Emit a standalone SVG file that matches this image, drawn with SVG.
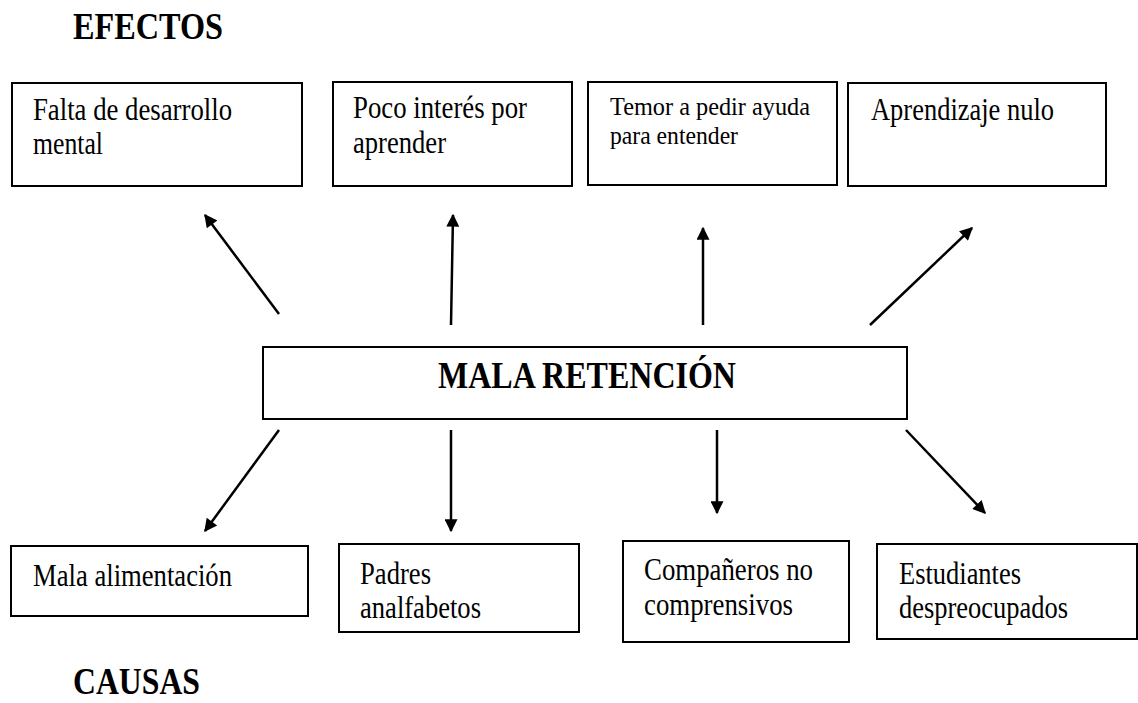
<svg xmlns="http://www.w3.org/2000/svg" width="1138" height="703" viewBox="0 0 1138 703">
<defs>
<style>
.box{fill:#fff;stroke:#000;stroke-width:2}
.t{font-family:"Liberation Serif","Times New Roman",serif;font-size:32px;fill:#000}
.ts{font-family:"Liberation Serif","Times New Roman",serif;font-size:25px;fill:#000}
.h{font-family:"Liberation Serif","Times New Roman",serif;font-weight:bold;fill:#000}
.arr{stroke:#000;stroke-width:2.5;fill:none;marker-end:url(#ah)}
</style>
<marker id="ah" viewBox="0 0 10 10" refX="9" refY="5" markerUnits="userSpaceOnUse" markerWidth="15" markerHeight="13" orient="auto">
<path d="M0,0 L10,5 L0,10 z" fill="#000"/>
</marker>
</defs>
<rect width="1138" height="703" fill="#fff"/>
<text id="efectos" class="h" x="73" y="39" font-size="38" textLength="150" lengthAdjust="spacingAndGlyphs">EFECTOS</text>
<text id="causas" class="h" x="73" y="694" font-size="37" textLength="127" lengthAdjust="spacingAndGlyphs">CAUSAS</text>
<g id="e1"><rect class="box" x="12" y="83" width="290" height="103"/>
<text class="t" x="33" y="120" textLength="199" lengthAdjust="spacingAndGlyphs">Falta de desarrollo</text>
<text class="t" x="33" y="154" textLength="70" lengthAdjust="spacingAndGlyphs">mental</text></g>
<g id="e2"><rect class="box" x="333" y="82" width="239" height="104"/>
<text class="t" x="353" y="118" font-size="31" textLength="174" lengthAdjust="spacingAndGlyphs">Poco interés por</text>
<text class="t" x="353" y="153" font-size="31" textLength="93" lengthAdjust="spacingAndGlyphs">aprender</text></g>
<g id="e3"><rect class="box" x="588" y="82" width="249" height="103"/>
<text class="ts" x="610" y="115" textLength="200" lengthAdjust="spacingAndGlyphs">Temor a pedir ayuda</text>
<text class="ts" x="610" y="144" textLength="128" lengthAdjust="spacingAndGlyphs">para entender</text></g>
<g id="e4"><rect class="box" x="848" y="83" width="258" height="103"/>
<text class="t" x="871" y="120" textLength="183" lengthAdjust="spacingAndGlyphs">Aprendizaje nulo</text></g>
<g id="center"><rect class="box" x="263" y="347" width="644" height="72"/>
<text class="h" x="438" y="388" font-size="37" textLength="298" lengthAdjust="spacingAndGlyphs">MALA RETENCIÓN</text></g>
<g id="c1"><rect class="box" x="11" y="546" width="297" height="70"/>
<text class="t" x="33" y="586" textLength="199" lengthAdjust="spacingAndGlyphs">Mala alimentación</text></g>
<g id="c2"><rect class="box" x="339" y="544" width="240" height="88"/>
<text class="t" x="360" y="584" textLength="71" lengthAdjust="spacingAndGlyphs">Padres</text>
<text class="t" x="360" y="618" textLength="121" lengthAdjust="spacingAndGlyphs">analfabetos</text></g>
<g id="c3"><rect class="box" x="623" y="541" width="226" height="101"/>
<text class="t" x="644" y="580" textLength="169" lengthAdjust="spacingAndGlyphs">Compañeros no</text>
<text class="t" x="644" y="615" textLength="149" lengthAdjust="spacingAndGlyphs">comprensivos</text></g>
<g id="c4"><rect class="box" x="877" y="544" width="260" height="95"/>
<text class="t" x="899" y="584" textLength="122" lengthAdjust="spacingAndGlyphs">Estudiantes</text>
<text class="t" x="899" y="618" textLength="169" lengthAdjust="spacingAndGlyphs">despreocupados</text></g>
<g id="connectors">
<line class="arr" x1="279" y1="314" x2="205" y2="215"/>
<line class="arr" x1="451" y1="325" x2="453" y2="215"/>
<line class="arr" x1="703" y1="325" x2="703" y2="228"/>
<line class="arr" x1="870" y1="325" x2="972" y2="228"/>
<line class="arr" x1="279" y1="430" x2="205" y2="531"/>
<line class="arr" x1="451" y1="430" x2="451" y2="531"/>
<line class="arr" x1="717" y1="430" x2="717" y2="513"/>
<line class="arr" x1="906" y1="430" x2="985" y2="513"/>
</g>
</svg>
